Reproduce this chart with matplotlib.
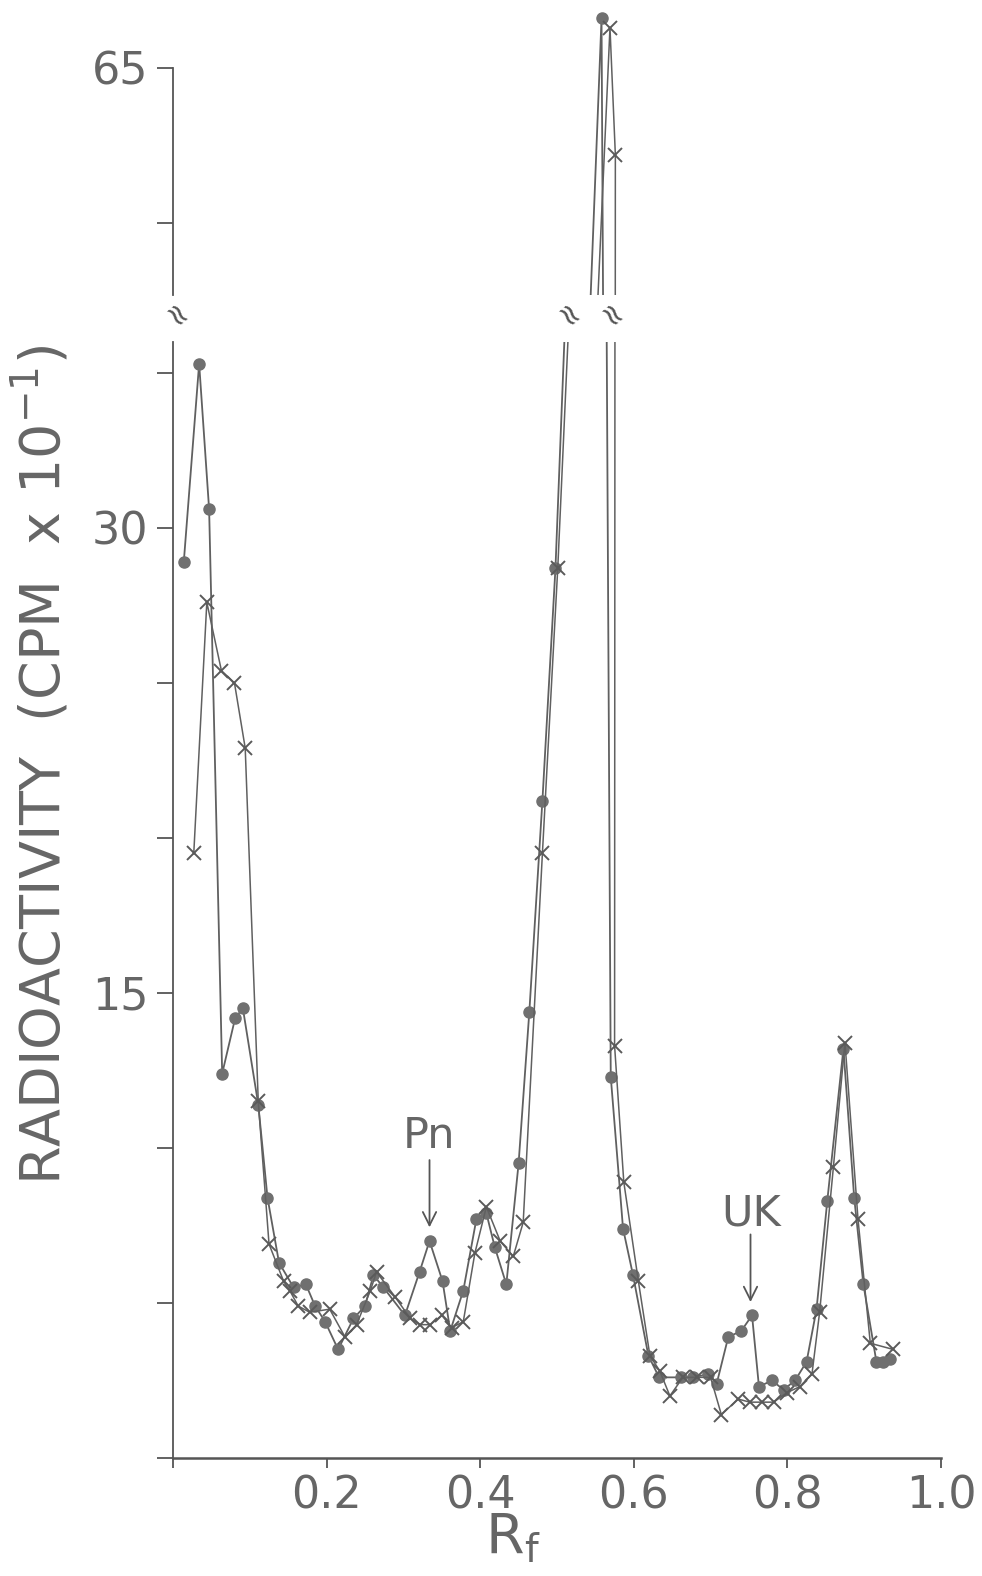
import matplotlib.pyplot as plt

# dots series (Rf, CPM x 10^-1)
dot_rf = [0.014, 0.034, 0.047, 0.064, 0.081, 0.091, 0.111, 0.123, 0.138, 0.157,
          0.173, 0.185, 0.198, 0.215, 0.235, 0.250, 0.261, 0.274, 0.302, 0.321,
          0.334, 0.351, 0.361, 0.378, 0.395, 0.408, 0.419, 0.434, 0.450, 0.464,
          0.481, 0.498, 0.558, 0.570, 0.586, 0.599, 0.619, 0.633, 0.662, 0.677,
          0.697, 0.708, 0.723, 0.740, 0.754, 0.763, 0.780, 0.795, 0.810, 0.825,
          0.838, 0.852, 0.873, 0.887, 0.899, 0.916, 0.925, 0.934]
dot_val = [28.9, 35.3, 30.6, 12.4, 14.2, 14.5, 11.4, 8.4, 6.3, 5.5,
           5.6, 4.9, 4.4, 3.5, 4.5, 4.9, 5.9, 5.5, 4.6, 6.0,
           7.0, 5.7, 4.1, 5.4, 7.7, 7.9, 6.8, 5.6, 9.5, 14.4,
           21.2, 28.7, 66.6, 12.3, 7.4, 5.9, 3.3, 2.6, 2.6, 2.6,
           2.7, 2.4, 3.9, 4.1, 4.6, 2.3, 2.5, 2.2, 2.5, 3.1,
           4.8, 8.3, 13.2, 8.4, 5.6, 3.1, 3.1, 3.2]

# crosses series
crs_rf = [0.027, 0.044, 0.063, 0.080, 0.094, 0.111, 0.125, 0.144, 0.152, 0.163,
          0.178, 0.204, 0.224, 0.239, 0.257, 0.265, 0.289, 0.309, 0.322, 0.335,
          0.350, 0.363, 0.378, 0.393, 0.408, 0.426, 0.443, 0.456, 0.481, 0.501,
          0.569, 0.576, 0.575, 0.587, 0.606, 0.621, 0.634, 0.647, 0.664, 0.682,
          0.700, 0.714, 0.736, 0.751, 0.767, 0.782, 0.799, 0.816, 0.832, 0.842,
          0.860, 0.875, 0.892, 0.908, 0.938]
crs_val = [19.5, 27.6, 25.4, 25.0, 22.9, 11.5, 6.9, 5.7, 5.4, 4.9,
           4.7, 4.8, 3.9, 4.3, 5.4, 6.0, 5.2, 4.5, 4.3, 4.3,
           4.6, 4.2, 4.4, 6.6, 8.1, 7.0, 6.5, 7.6, 19.5, 28.7,
           66.3, 62.2, 13.3, 8.9, 5.7, 3.3, 2.8, 2.0, 2.6, 2.6,
           2.6, 1.4, 1.9, 1.8, 1.8, 1.8, 2.1, 2.3, 2.7, 4.7,
           9.4, 13.4, 7.7, 3.7, 3.5]

x_ticks = [0.0, 0.2, 0.4, 0.6, 0.8, 1.0]
x_labels = ['', '0.2', '0.4', '0.6', '0.8', '1.0']
low_ticks = [0, 5, 10, 15, 20, 25, 30, 35]
low_labels = ['', '', '', '15', '', '', '30', '']
up_ticks = [60, 65]
up_labels = ['', '65']

ink = '#555555'
txt = '#666666'
plt.rcParams['font.family'] = ['DejaVu Sans']

fig = plt.figure(figsize=(9.82, 15.76), dpi=100)
ax = fig.add_axes([0.1762, 0.0749, 0.782, 0.7081])
ax_up = fig.add_axes([0.1762, 0.8128, 0.782, 0.1872])

for a in (ax, ax_up):
    a.plot(dot_rf, dot_val, '-', color='#606060', lw=1.3, marker='o', ms=8,
           mfc='#707070', mec='#707070')
    a.plot(crs_rf, crs_val, '-', color='#606060', lw=1.1, marker='x', ms=10,
           mew=1.4, mec='#5a5a5a')
    a.set_xlim(0, 1.0)
    for s in ('top', 'right'):
        a.spines[s].set_visible(False)
    a.spines['left'].set_color(ink)
    a.spines['bottom'].set_color(ink)
    a.spines['left'].set_linewidth(1.3)
    a.spines['bottom'].set_linewidth(1.8)
    a.tick_params(colors=ink, labelcolor=txt, width=1.3, labelsize=32)

ax.set_ylim(0, 36)
ax.set_yticks(low_ticks)
ax.set_yticklabels(low_labels)
ax.set_xticks(x_ticks)
ax.set_xticklabels(x_labels)
ax.tick_params(axis='y', length=11.5, pad=6)
ax.tick_params(axis='x', length=7, pad=5)

ax_up.set_ylim(57.68, 67.19)
ax_up.spines['bottom'].set_visible(False)
ax_up.spines['left'].set_bounds(57.68, 65)
ax_up.set_xticks([])
ax_up.set_yticks(up_ticks)
ax_up.set_yticklabels(up_labels)
ax_up.tick_params(axis='y', length=11.5, pad=6)
ax_up.patch.set_visible(False)
ax.patch.set_visible(False)

# break marks
for xb in (174, 566, 609):
    fig.text(xb / 982, 1 - 318 / 1576, '\u2248', rotation=-50, ha='center',
             va='center', fontsize=22, color=ink)

# annotations
ax.annotate('', xy=(0.334, 7.35), xytext=(0.334, 9.7),
            arrowprops=dict(arrowstyle='->', color=ink, lw=1.3, mutation_scale=24))
ax.text(0.333, 10.4, 'Pn', ha='center', va='center', fontsize=31, color=txt)
ax.annotate('', xy=(0.752, 4.94), xytext=(0.752, 7.3),
            arrowprops=dict(arrowstyle='->', color=ink, lw=1.3, mutation_scale=24))
ax.text(0.753, 7.9, 'UK', ha='center', va='center', fontsize=31, color=txt)

fig.text(513 / 982, 1 - 1553 / 1576, r'R$_\mathregular{f}$', ha='center',
         va='baseline', fontsize=40, color=txt)
fig.text(60 / 982, 1 - 765 / 1576, r'RADIOACTIVITY  (CPM  x 10$^{-1}$)',
         rotation=90, rotation_mode='anchor', ha='center', va='baseline',
         fontsize=40, color=txt)

fig.savefig('out.png', dpi=100)
